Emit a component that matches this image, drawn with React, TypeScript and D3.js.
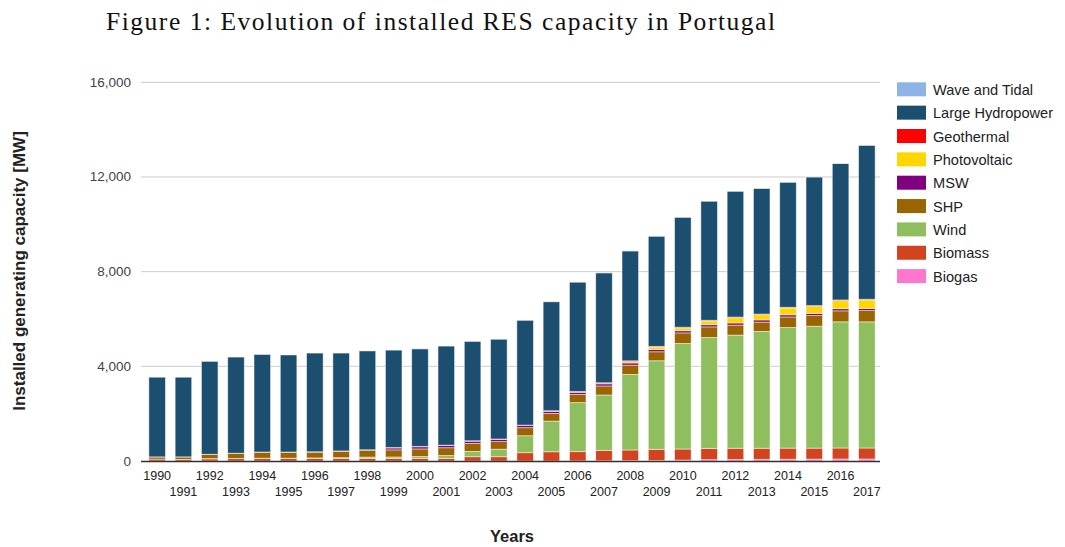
import React from "react";
import * as d3 from "d3";

const years = [
  1990, 1991, 1992, 1993, 1994, 1995, 1996, 1997, 1998, 1999, 2000, 2001, 2002, 2003,
  2004, 2005, 2006, 2007, 2008, 2009, 2010, 2011, 2012, 2013, 2014, 2015, 2016, 2017,
];

// installed capacity in MW
const biogas = [0, 0, 0, 0, 0, 0, 0, 0, 0, 0, 0, 0, 0, 0, 0, 0, 5, 10, 15, 25, 40, 55, 65, 70, 75, 80, 85, 85];
const biomass = [80, 70, 90, 100, 110, 110, 110, 110, 110, 110, 110, 110, 180, 180, 350, 390, 390, 440, 450, 470, 466, 480, 475, 470, 470, 465, 465, 465];
const wind = [0, 0, 10, 10, 10, 10, 20, 30, 55, 60, 80, 120, 225, 320, 717, 1295, 2070, 2340, 3195, 3740, 4460, 4685, 4780, 4937, 5094, 5150, 5330, 5330];
const shp = [90, 100, 180, 215, 240, 240, 240, 265, 290, 300, 320, 330, 340, 320, 340, 325, 350, 380, 392, 380, 447, 447, 422, 392, 447, 450, 464, 476];
const msw = [0, 0, 0, 0, 0, 0, 0, 0, 0, 80, 90, 90, 90, 90, 90, 90, 90, 90, 90, 90, 90, 90, 90, 90, 90, 90, 90, 90];
const photovoltaic = [0, 0, 0, 0, 0, 0, 0, 0, 0, 0, 0, 0, 0, 0, 0, 3, 3, 15, 60, 110, 120, 160, 220, 220, 290, 300, 340, 360];
const geothermal = [5, 5, 5, 5, 20, 20, 20, 20, 20, 20, 20, 20, 20, 20, 20, 20, 30, 30, 30, 30, 30, 30, 30, 30, 30, 30, 30, 30];
const largeHydro = [3365, 3365, 3925, 4060, 4120, 4100, 4170, 4135, 4175, 4120, 4120, 4190, 4205, 4220, 4433, 4607, 4622, 4645, 4644, 4655, 4647, 5033, 5318, 5311, 5284, 5435, 5766, 6504];
const waveTidal = [0, 0, 0, 0, 0, 0, 0, 0, 0, 0.4, 0.4, 0.4, 0.4, 0.4, 0.4, 0.4, 0.4, 0.4, 4, 4, 4, 4, 4, 4, 4, 4, 4, 4];

const yTicks = [0, 4000, 8000, 12000, 16000];

// stacking order, bottom to top
const seriesDefs = [
  { key: "biogas", label: "Biogas", color: "#ff77cc", values: biogas },
  { key: "biomass", label: "Biomass", color: "#d2441f", values: biomass },
  { key: "wind", label: "Wind", color: "#8fbe5f", values: wind },
  { key: "shp", label: "SHP", color: "#9a6500", values: shp },
  { key: "msw", label: "MSW", color: "#800080", values: msw },
  { key: "pv", label: "Photovoltaic", color: "#ffd700", values: photovoltaic },
  { key: "geo", label: "Geothermal", color: "#ff0000", values: geothermal },
  { key: "hydro", label: "Large Hydropower", color: "#1c4e6f", values: largeHydro },
  { key: "wave", label: "Wave and Tidal", color: "#8db4e6", values: waveTidal },
];

const W = 1065, H = 547;
const font = "Arial, 'Liberation Sans', sans-serif";

export default function App() {
  const rows = years.map((yr, i) => {
    const r: any = { year: String(yr) };
    seriesDefs.forEach(s => { r[s.key] = s.values[i]; });
    return r;
  });

  const stacked = d3.stack().keys(seriesDefs.map(s => s.key))(rows);

  const x = d3.scaleBand()
    .domain(years.map(String))
    .range([144, 880])
    .paddingInner(0.37)
    .paddingOuter(0.185);

  const y = d3.scaleLinear().domain([0, 16000]).range([461, 82.3]);
  const fmt = d3.format(",");

  const legendItems = [...seriesDefs].reverse();

  return (
    <svg width={W} height={H} style={{ position: "absolute", left: 0, top: 0, background: "#fff" }}>
      <text x={106} y={30} fontFamily="'Liberation Serif', 'Times New Roman', serif" fontSize={25.5}
        textLength={669} lengthAdjust="spacing" fill="#111">
        Figure 1: Evolution of installed RES capacity in Portugal
      </text>

      {/* gridlines */}
      {yTicks.filter(t => t > 0).map(t => (
        <line key={t} x1={141} x2={880} y1={y(t)} y2={y(t)} stroke="#cccccc" strokeWidth={1} />
      ))}
      {yTicks.map(t => (
        <text key={"l" + t} x={131} y={y(t) + 4.5} textAnchor="end" fontFamily={font} fontSize={13.5} fill="#444">
          {fmt(t)}
        </text>
      ))}

      {/* bars */}
      {stacked.map((layer, li) => (
        <g key={layer.key} fill={seriesDefs[li].color}>
          {layer.map((d: any, i: number) => {
            const h = y(d[0]) - y(d[1]);
            if (h <= 0) return null;
            return (
              <rect key={i} x={x(d.data.year)} y={y(d[1])} width={x.bandwidth()} height={h}
                stroke="#ffffff" strokeOpacity={0.6} strokeWidth={0.8} />
            );
          })}
        </g>
      ))}

      {/* x axis line */}
      <line x1={141} x2={880} y1={461.5} y2={461.5} stroke="#333" strokeWidth={1.5} />

      {years.map((yr, i) => (
        <text key={yr} x={(x(String(yr)) as number) + x.bandwidth() / 2} y={i % 2 === 0 ? 480 : 496}
          textAnchor="middle" fontFamily={font} fontSize={12.5} fill="#222">
          {yr}
        </text>
      ))}

      <text x={512} y={542} textAnchor="middle" fontFamily={font} fontSize={16.5} fontWeight="bold" fill="#222">
        Years
      </text>
      <text transform="translate(25,271) rotate(-90)" textAnchor="middle" fontFamily={font} fontSize={17}
        fontWeight="bold" fill="#222">
        Installed generating capacity [MW]
      </text>

      {/* legend */}
      {legendItems.map((s, i) => (
        <g key={s.key} transform={`translate(897,${82.3 + i * 23.35})`}>
          <rect width={29} height={14} fill={s.color} />
          <text x={36} y={12.5} fontFamily={font} fontSize={14.6} fill="#222">{s.label}</text>
        </g>
      ))}
    </svg>
  );
}
